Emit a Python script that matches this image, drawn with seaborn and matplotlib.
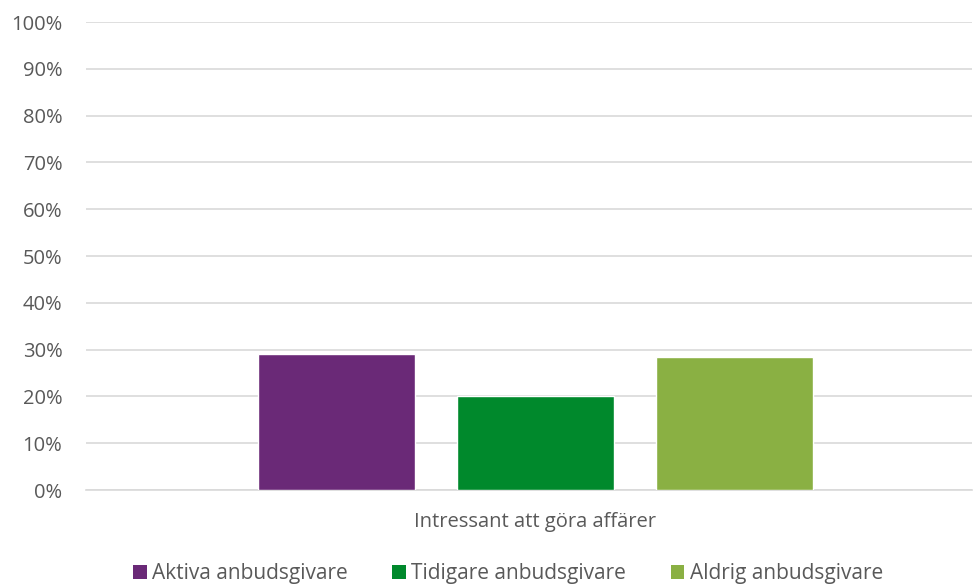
import matplotlib
matplotlib.use("Agg")
import matplotlib.pyplot as plt
import seaborn as sns
import pandas as pd
from matplotlib.patches import Patch

category = "Intressant att göra affärer"
series = ["Aktiva anbudsgivare", "Tidigare anbudsgivare", "Aldrig anbudsgivare"]
values = [29.1, 20.1, 28.5]
colors = ["#6A2977", "#00892C", "#8AB043"]
yticks = [0, 10, 20, 30, 40, 50, 60, 70, 80, 90, 100]

df = pd.DataFrame({"cat": [category] * 3, "serie": series, "val": values})

sns.set_theme(style="white")
plt.rcParams["font.family"] = ["Open Sans", "DejaVu Sans"]
txt = "#595959"
fs = 14.5

fig = plt.figure(figsize=(9.73, 5.85), dpi=100)
ax = fig.add_axes([86 / 973, 95 / 585, 886 / 973, 468 / 585])

sns.barplot(data=df, x="cat", y="val", hue="serie", hue_order=series,
            palette=colors, width=0.8, gap=0.21, ax=ax, legend=False,
            saturation=1, zorder=3)

ax.set_ylim(0, 100)
ax.set_yticks(yticks)
ax.set_yticklabels([f"{t}%" for t in yticks], color=txt, fontsize=fs)
ax.set_xlim(-0.602, 0.585)
ax.tick_params(axis="x", colors=txt, labelsize=fs, pad=16, length=0)
ax.tick_params(axis="y", length=0, pad=17)
ax.set_xlabel("")
ax.set_ylabel("")
ax.grid(axis="y", color="#D9D9D9", linewidth=1.2, zorder=0)
for s in ["top", "right", "left"]:
    ax.spines[s].set_visible(False)
ax.spines["bottom"].set_color("#D9D9D9")
ax.spines["bottom"].set_linewidth(1.2)

handles = [Patch(facecolor=c, edgecolor="none") for c in colors]
fig.legend(handles, series, loc="center", bbox_to_anchor=(508 / 973, 1 - 574 / 585),
           ncol=3, frameon=False, fontsize=15, labelcolor=txt,
           handlelength=0.65, handleheight=0.65, handletextpad=0.25,
           columnspacing=2.15)

fig.savefig("out.png", dpi=100)
